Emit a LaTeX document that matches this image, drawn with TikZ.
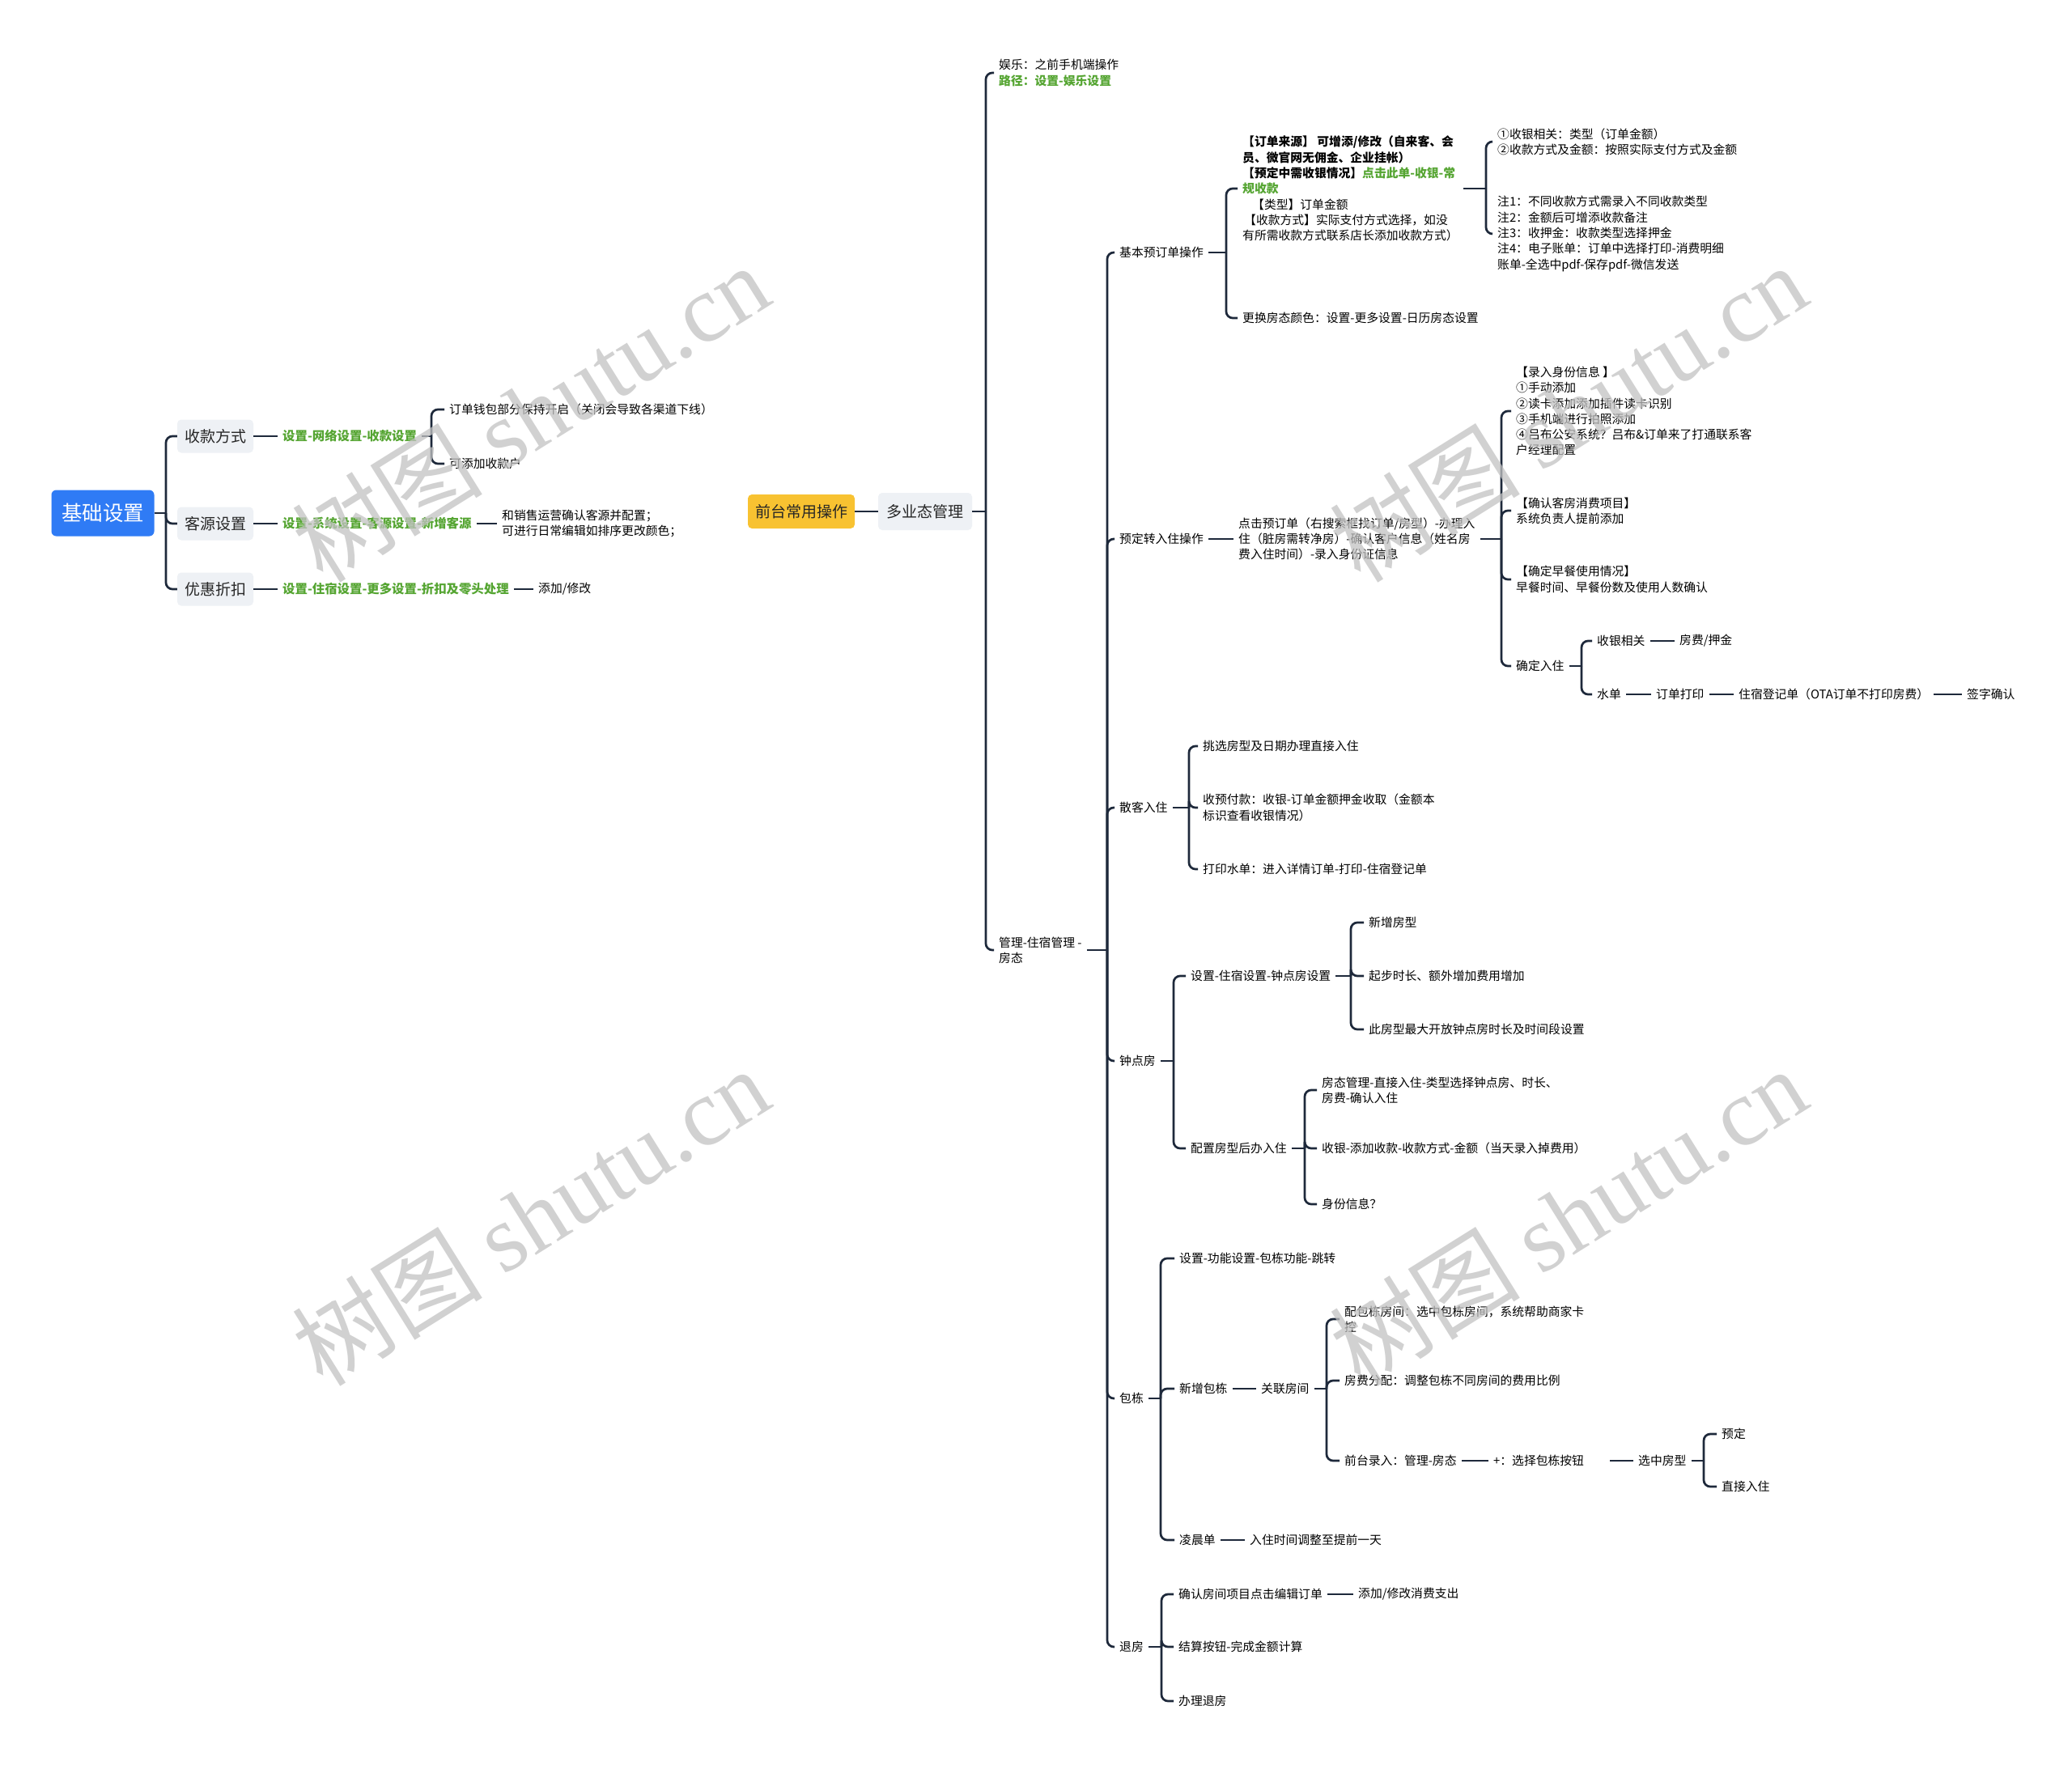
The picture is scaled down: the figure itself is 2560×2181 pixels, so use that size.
\documentclass[tikz,border=0pt]{standalone}
\usepackage{fontspec}
\setmainfont{Noto Sans CJK SC}
\newfontfamily\wmlat{Liberation Serif}
\definecolor{lc}{HTML}{1E293B}
\definecolor{gr}{HTML}{55A532}
\definecolor{rootblue}{HTML}{2F7BF5}
\definecolor{yel}{HTML}{F8C231}
\definecolor{boxg}{HTML}{EEF1F5}
\begin{document}
\begin{tikzpicture}[x=1pt,y=-1pt,
  conn/.style={draw=lc, line width=2.7pt, rounded corners=8pt},
  txt/.style={anchor=west, inner xsep=6pt, inner ysep=2pt, align=left, font=\fontsize{14.8}{19.3}\selectfont, text=black},
  grn/.style={txt, font=\fontsize{15.4}{20}\selectfont\bfseries, text=gr},
  lbox/.style={fill=boxg, rounded corners=5pt, minimum width=94pt, minimum height=41pt, font=\fontsize{19}{23}\selectfont, inner sep=0pt, text=black!85},
  rootbox/.style={fill=rootblue, rounded corners=6pt, minimum width=127pt, minimum height=57pt, font=\fontsize{25.5}{30}\selectfont, inner sep=0pt, text=white},
  ybox/.style={fill=yel, rounded corners=5pt, minimum width=132pt, minimum height=42pt, font=\fontsize{19}{23}\selectfont, inner sep=0pt, text=black!85},
  gbox/.style={fill=boxg, rounded corners=5pt, minimum width=116pt, minimum height=46pt, font=\fontsize{19}{23}\selectfont, inner sep=0pt, text=black!85},
  wm/.style={font=\fontsize{118}{118}\selectfont, text=black!24, text opacity=0.75, inner sep=0pt}
]
\fill[white] (0,0) rectangle (2560,2181);
\useasboundingbox (0,0) rectangle (2560,2181);

% ---------- left tree ----------
\node[rootbox] (root) at (127,634) {基础设置};
\node[lbox] (k1) at (266,539) {收款方式};
\node[lbox] (k2) at (266,647) {客源设置};
\node[lbox] (k3) at (266,728) {优惠折扣};
\coordinate (j0) at (205,634);
\draw[conn] (root.east) -- (j0);
\draw[conn] (j0) |- (k1.west);
\draw[conn] (j0) |- (k2.west);
\draw[conn] (j0) |- (k3.west);

\node[grn] (g1) at (343,539) {设置-网络设置-收款设置};
\draw[conn] (k1.east) -- (g1.west);
\coordinate (j1) at (533,539);
\draw[conn] (g1.east) -- (j1);
\node[txt] (a1) at (549,506) {订单钱包部分保持开启（关闭会导致各渠道下线）};
\node[txt] (a2) at (549,573) {可添加收款户};
\draw[conn] (j1) |- (a1.west);
\draw[conn] (j1) |- (a2.west);

\node[grn] (g2) at (343,647) {设置-系统设置-客源设置-新增客源};
\draw[conn] (k2.east) -- (g2.west);
\node[txt] (b1) at (614,647) {和销售运营确认客源并配置；\\可进行日常编辑如排序更改颜色；};
\draw[conn] (g2.east) -- (b1.west);

\node[grn] (g3) at (343,728) {设置-住宿设置-更多设置-折扣及零头处理};
\draw[conn] (k3.east) -- (g3.west);
\node[txt] (c1) at (659,728) {添加/修改};
\draw[conn] (g3.east) -- (c1.west);

% ---------- centre ----------
\node[ybox] (fr) at (990,632) {前台常用操作};
\node[gbox] (mul) at (1143,632) {多业态管理};
\draw[conn] (fr.east) -- (mul.west);
\coordinate (jA) at (1218,632);
\draw[conn] (mul.east) -- (jA);
\node[txt] (yl) at (1228,90) {娱乐：之前手机端操作\\{\color{gr}\bfseries 路径：设置-娱乐设置}};
\node[txt] (gl) at (1228,1174) {管理-住宿管理 -\\房态};
\draw[conn] (jA) |- (yl.west);
\draw[conn] (jA) |- (gl.west);

\coordinate (jB) at (1368,1174);
\draw[conn] (gl.east) -- (jB);
\node[txt] (n1) at (1377,312) {基本预订单操作};
\node[txt] (n2) at (1377,666) {预定转入住操作};
\node[txt] (n3) at (1377,998) {散客入住};
\node[txt] (n4) at (1377,1311) {钟点房};
\node[txt] (n5) at (1377,1728) {包栋};
\node[txt] (n6) at (1377,2035) {退房};
\draw[conn] (jB) |- (n1.west);
\draw[conn] (jB) |- (n2.west);
\draw[conn] (jB) |- (n3.west);
\draw[conn] (jB) |- (n4.west);
\draw[conn] (jB) |- (n5.west);
\draw[conn] (jB) |- (n6.west);

% ---------- 基本预订单操作 ----------
\coordinate (j1a) at (1515,312);
\draw[conn] (n1.east) -- (j1a);
\node[txt] (n1a) at (1529,233) {{\bfseries 【订单来源】 可增添/修改（自来客、会}\\
{\bfseries 员、微官网无佣金、企业挂帐）}\\
{\bfseries 【预定中需收银情况】{\color{gr}点击此单-收银-常}}\\
{\bfseries\color{gr}规收款}\\
\hspace*{12pt}【类型】订单金额\\
\hspace*{2pt}【收款方式】实际支付方式选择，如没\\
有所需收款方式联系店长添加收款方式）};
\node[txt] (n1b) at (1529,393) {更换房态颜色：设置-更多设置-日历房态设置};
\draw[conn] (j1a) |- (n1a.west);
\draw[conn] (j1a) |- (n1b.west);
\coordinate (j1b) at (1836,233);
\draw[conn] (n1a.east) -- (j1b);
\node[txt] (n1c) at (1844,175) {①收银相关：类型（订单金额）\\②收款方式及金额：按照实际支付方式及金额};
\node[txt] (n1d) at (1844,289) {注1：不同收款方式需录入不同收款类型\\注2：金额后可增添收款备注\\注3：收押金：收款类型选择押金\\注4：电子账单：订单中选择打印-消费明细\\账单-全选中pdf-保存pdf-微信发送};
\draw[conn] (j1b) |- (n1c.west);
\draw[conn] (j1b) |- (n1d.west);

% ---------- 预定转入住操作 ----------
\node[txt] (n2a) at (1524,666) {点击预订单（右搜索框找订单/房型）-办理入\\住（脏房需转净房）-确认客户信息（姓名房\\费入住时间）-录入身份证信息};
\draw[conn] (n2.east) -- (n2a.west);
\coordinate (j2) at (1855,666);
\draw[conn] (n2a.east) -- (j2);
\node[txt] (n2b) at (1867,508) {【录入身份信息 】\\①手动添加\\②读卡添加添加插件读卡识别\\③手机端进行拍照添加\\④吕布公安系统？吕布\&订单来了打通联系客\\户经理配置};
\node[txt] (n2c) at (1867,631) {【确认客房消费项目】\\系统负责人提前添加};
\node[txt] (n2d) at (1867,716) {【确定早餐使用情况】\\早餐时间、早餐份数及使用人数确认};
\node[txt] (n2e) at (1867,823) {确定入住};
\draw[conn] (j2) |- (n2b.west);
\draw[conn] (j2) |- (n2c.west);
\draw[conn] (j2) |- (n2d.west);
\draw[conn] (j2) |- (n2e.west);
\coordinate (j2e) at (1954,823);
\draw[conn] (n2e.east) -- (j2e);
\node[txt] (s1) at (1967,792) {收银相关};
\node[txt] (s2) at (2069,792) {房费/押金};
\node[txt] (w1) at (1967,858) {水单};
\node[txt] (w2) at (2040,858) {订单打印};
\node[txt] (w3) at (2142,858) {住宿登记单（OTA订单不打印房费）};
\node[txt] (w4) at (2424,858) {签字确认};
\draw[conn] (j2e) |- (s1.west);
\draw[conn] (j2e) |- (w1.west);
\draw[conn] (s1.east) -- (s2.west);
\draw[conn] (w1.east) -- (w2.west);
\draw[conn] (w2.east) -- (w3.west);
\draw[conn] (w3.east) -- (w4.west);

% ---------- 散客入住 ----------
\coordinate (j3) at (1469,998);
\draw[conn] (n3.east) -- (j3);
\node[txt] (n3a) at (1480,922) {挑选房型及日期办理直接入住};
\node[txt] (n3b) at (1480,998) {收预付款：收银-订单金额押金收取（金额本\\标识查看收银情况）};
\node[txt] (n3c) at (1480,1074) {打印水单：进入详情订单-打印-住宿登记单};
\draw[conn] (j3) |- (n3a.west);
\draw[conn] (j3) |- (n3b.west);
\draw[conn] (j3) |- (n3c.west);

% ---------- 钟点房 ----------
\coordinate (j4) at (1450,1311);
\draw[conn] (n4.east) -- (j4);
\node[txt] (n4a) at (1465,1206) {设置-住宿设置-钟点房设置};
\node[txt] (n4b) at (1465,1419) {配置房型后办入住};
\draw[conn] (j4) |- (n4a.west);
\draw[conn] (j4) |- (n4b.west);
\coordinate (j4a) at (1669,1206);
\draw[conn] (n4a.east) -- (j4a);
\node[txt] (h1) at (1685,1140) {新增房型};
\node[txt] (h2) at (1685,1206) {起步时长、额外增加费用增加};
\node[txt] (h3) at (1685,1272) {此房型最大开放钟点房时长及时间段设置};
\draw[conn] (j4a) |- (h1.west);
\draw[conn] (j4a) |- (h2.west);
\draw[conn] (j4a) |- (h3.west);
\coordinate (j4b) at (1612,1419);
\draw[conn] (n4b.east) -- (j4b);
\node[txt] (h4) at (1627,1347) {房态管理-直接入住-类型选择钟点房、时长、\\房费-确认入住};
\node[txt] (h5) at (1627,1419) {收银-添加收款-收款方式-金额（当天录入掉费用）};
\node[txt] (h6) at (1627,1488) {身份信息？};
\draw[conn] (j4b) |- (h4.west);
\draw[conn] (j4b) |- (h5.west);
\draw[conn] (j4b) |- (h6.west);

% ---------- 包栋 ----------
\coordinate (j5) at (1434,1728);
\draw[conn] (n5.east) -- (j5);
\node[txt] (p1) at (1451,1555) {设置-功能设置-包栋功能-跳转};
\node[txt] (p2) at (1451,1716) {新增包栋};
\node[txt] (p3) at (1451,1903) {凌晨单};
\draw[conn] (j5) |- (p1.west);
\draw[conn] (j5) |- (p2.west);
\draw[conn] (j5) |- (p3.west);
\node[txt] (p2a) at (1552,1716) {关联房间};
\draw[conn] (p2.east) -- (p2a.west);
\coordinate (j5a) at (1639,1716);
\draw[conn] (p2a.east) -- (j5a);
\node[txt] (q1) at (1655,1630) {配包栋房间：选中包栋房间，系统帮助商家卡\\控};
\node[txt] (q2) at (1655,1706) {房费分配：调整包栋不同房间的费用比例};
\node[txt] (q3) at (1655,1805) {前台录入：管理-房态};
\draw[conn] (j5a) |- (q1.west);
\draw[conn] (j5a) |- (q2.west);
\draw[conn] (j5a) |- (q3.west);
\node[txt] (q3a) at (1839,1805) {+：选择包栋按钮\hspace*{26pt}};
\node[txt] (q3b) at (2018,1805) {选中房型};
\draw[conn] (q3.east) -- (q3a.west);
\draw[conn] (q3a.east) -- (q3b.west);
\coordinate (j5b) at (2105,1805);
\draw[conn] (q3b.east) -- (j5b);
\node[txt] (r1) at (2121,1772) {预定};
\node[txt] (r2) at (2121,1837) {直接入住};
\draw[conn] (j5b) |- (r1.west);
\draw[conn] (j5b) |- (r2.west);
\node[txt] (p3a) at (1538,1903) {入住时间调整至提前一天};
\draw[conn] (p3.east) -- (p3a.west);

% ---------- 退房 ----------
\coordinate (j6) at (1435,2035);
\draw[conn] (n6.east) -- (j6);
\node[txt] (t1) at (1450,1970) {确认房间项目点击编辑订单};
\node[txt] (t2) at (1450,2035) {结算按钮-完成金额计算};
\node[txt] (t3) at (1450,2102) {办理退房};
\draw[conn] (j6) |- (t1.west);
\draw[conn] (j6) |- (t2.west);
\draw[conn] (j6) |- (t3.west);
\node[txt] (t1a) at (1672,1970) {添加/修改消费支出};
\draw[conn] (t1.east) -- (t1a.west);

% ---------- watermarks ----------
\node[wm,rotate=32] (wm1) at (655,510) {树图 {\wmlat shutu.cn}};
\node[wm,rotate=32] (wm2) at (655,1503) {树图 {\wmlat shutu.cn}};
\node[wm,rotate=32] (wm3) at (1937,510) {树图 {\wmlat shutu.cn}};
\node[wm,rotate=32] (wm4) at (1937,1503) {树图 {\wmlat shutu.cn}};
\end{tikzpicture}
\end{document}
